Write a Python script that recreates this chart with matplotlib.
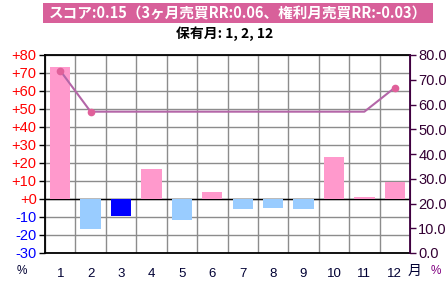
import matplotlib
matplotlib.use("Agg")
import matplotlib.pyplot as plt
from matplotlib.patches import Rectangle
import numpy as np

months = [1, 2, 3, 4, 5, 6, 7, 8, 9, 10, 11, 12]
returns = [73.3, -16.5, -9.3, 16.7, -11.7, 3.9, -5.4, -4.8, -5.4, 23.3, 1.3, 9.6]
win_rate = [73.7, 57.1, 57.1, 57.1, 57.1, 57.1, 57.1, 57.1, 57.1, 57.1, 57.1, 66.8]
held_months = [1, 2, 12]
highlight_months = [3]
left_ticks = [-30, -20, -10, 0, 10, 20, 30, 40, 50, 60, 70, 80]
right_ticks = [0, 10, 20, 30, 40, 50, 60, 70, 80]
title = "スコア:0.15（3ヶ月売買RR:0.06、権利月売買RR:-0.03）"
subtitle = "保有月: 1, 2, 12"

plt.rcParams['font.family'] = ['Liberation Sans', 'Noto Sans CJK JP', 'DejaVu Sans']

fig = plt.figure(figsize=(4.48, 2.88), dpi=100)
fig.patch.set_facecolor('white')
ax = fig.add_axes([45/448, 1-253/288, (410-45)/448, (253-55)/288])

x = np.arange(len(months))
colors = []
for m, v in zip(months, returns):
    if m in highlight_months:
        colors.append('#0000FF')
    elif v >= 0:
        colors.append('#FF99CC')
    else:
        colors.append('#99CCFF')
ax.bar(x, returns, width=0.67, color=colors, zorder=3)
ax.set_xlim(-0.5, len(months) - 0.5)
ax.set_ylim(-30, 80)
ax.set_yticks(left_ticks)
ax.set_yticklabels([f"{t:+d}" if t != 0 else "+0" for t in left_ticks], fontsize=10.5)
for lbl, t in zip(ax.get_yticklabels(), left_ticks):
    lbl.set_color('#FF0000' if t >= 0 else '#0000FF')
ax.set_xticks(x)
ax.set_xticklabels([str(m) for m in months], fontsize=9.5, color='#000033')
ax.tick_params(axis='x', length=0, pad=11)
ax.tick_params(axis='y', length=4, width=1, color='black', pad=2)
ax.set_xticks(np.arange(len(months) + 1) - 0.5, minor=True)
ax.grid(which='minor', axis='x', color='#8c8c8c', lw=1, zorder=1)
ax.grid(which='major', axis='y', color='#8c8c8c', lw=1, zorder=1)
ax.grid(which='major', axis='x', visible=False)
ax.tick_params(axis='x', which='minor', length=0)
ax.axhline(0, color='black', lw=1.0, zorder=2.5)
for s in ['left', 'top', 'bottom']:
    ax.spines[s].set_color('black')
    ax.spines[s].set_linewidth(1.3)
ax.spines['right'].set_color('#400040')

ax2 = ax.twinx()
ax2.set_position(ax.get_position())
held_idx = [months.index(m) for m in held_months]
ax2.plot(x, win_rate, color='#B466A8', lw=1.5, marker='o', markersize=4.5,
         markerfacecolor='#E0609A', markeredgecolor='#E0609A', markevery=held_idx, zorder=5)
ax2.set_ylim(0, 80)
ax2.set_yticks(right_ticks)
ax2.set_yticklabels([f"{t:.1f}" for t in right_ticks], fontsize=10.5, color='#330033')
ax2.tick_params(axis='y', length=4, width=1, color='#400040', pad=2)
ax2.spines['right'].set_color('#400040')
ax2.spines['right'].set_linewidth(1.3)
for s in ['left', 'top', 'bottom']:
    ax2.spines[s].set_visible(False)

fig.patches.append(Rectangle((43/448, 1-23/288), 390/448, 20/288, transform=fig.transFigure,
                             facecolor='#D8609A', edgecolor='none', zorder=0))
fig.text(238/448, 1-13/288, title, ha='center', va='center', fontsize=10.5,
         fontweight='bold', color='white', family=['Noto Sans CJK JP', 'DejaVu Sans'])
fig.text(225/448, 1-34/288, subtitle, ha='center', va='center', fontsize=10,
         fontweight='bold', color='black', family=['Noto Sans CJK JP', 'DejaVu Sans'])
fig.text(22/448, 1-271/288, "%", ha='center', va='center', fontsize=8.5, color='#000033')
fig.text(415/448, 1-271/288, "月", ha='center', va='center', fontsize=10,
         color='#000033', family=['Noto Sans CJK JP'])
fig.text(436/448, 1-271/288, "%", ha='center', va='center', fontsize=8.5, color='#800080')

fig.savefig('out.png', dpi=100, facecolor='white')
